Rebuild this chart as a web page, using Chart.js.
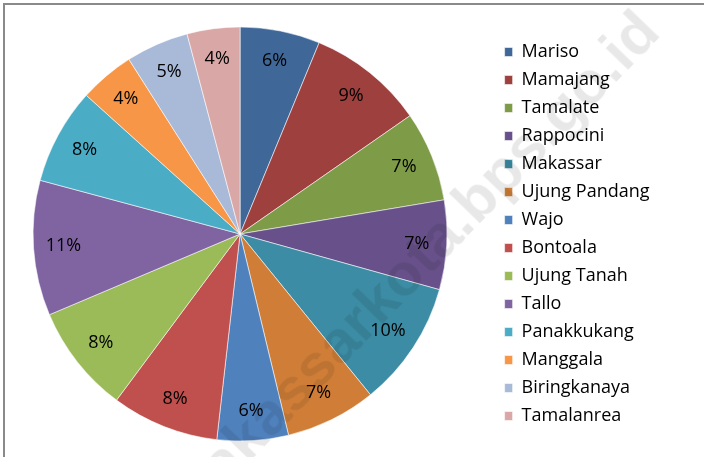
<!DOCTYPE html>
<html>
<head>
<meta charset="utf-8">
<script src="https://cdn.jsdelivr.net/npm/chart.js@4.4.1/dist/chart.umd.min.js"></script>
<style>
    html, body { margin: 0; padding: 0; background: #fff; }
    #stage { position: relative; width: 704px; height: 457px; overflow: hidden; background: #fff; }
    #frame { position: absolute; left: 3px; top: 3px; width: 720px; height: 480px; border: 2px solid #8a8a8a; box-sizing: border-box; }
    #wrap { position: absolute; left: -30px; top: 0; width: 734px; height: 457px; }
    #mark {
        position: absolute; left: 410px; top: 266px;
        transform: translate(-50%, -50%) rotate(-46deg);
        font: bold 60px "Liberation Sans", Arial, sans-serif;
        color: rgba(0, 0, 0, 0.09); white-space: nowrap; pointer-events: none;
    }
</style>
</head>
<body>
<div id="stage">
    <div id="frame"></div>
    <div id="wrap"><canvas id="pieChart"></canvas></div>
    <div id="mark">makassarkota.bps.go.id</div>
</div>
<script>
    // districts, clockwise from 12 o'clock
    const districts = [
        'Mariso', 'Mamajang', 'Tamalate', 'Rappocini', 'Makassar', 'Ujung Pandang', 'Wajo',
        'Bontoala', 'Ujung Tanah', 'Tallo', 'Panakkukang', 'Manggala', 'Biringkanaya', 'Tamalanrea'
    ];
    // share of each district (percent)
    const shares = [6.24, 9.08, 7.04, 6.97, 9.82, 7.08, 5.56, 8.38, 8.45, 10.55, 7.5, 4.3, 4.9, 4.12];
    const sliceColors = [
        '#3f6899', '#9d403e', '#7e9b48', '#68518a', '#3b8ca4', '#d07e37', '#4f81bd',
        '#c0504d', '#9bbb59', '#8064a2', '#4bacc6', '#f79646', '#a9bad9', '#d9a7a6'
    ];

    const FONT = '"Open Sans", sans-serif';

    const percentLabels = {
        id: 'percentLabels',
        afterDatasetsDraw(chart) {
            const ctx = chart.ctx;
            const meta = chart.getDatasetMeta(0);
            const data = chart.data.datasets[0].data;
            const total = data.reduce((a, b) => a + b, 0);

            ctx.save();
            ctx.font = '18px ' + FONT;
            ctx.fillStyle = '#000';
            ctx.textAlign = 'center';
            ctx.textBaseline = 'middle';
            meta.data.forEach((arc, i) => {
                const p = arc.getProps(['x', 'y', 'startAngle', 'endAngle', 'outerRadius'], true);
                const mid = (p.startAngle + p.endAngle) / 2;
                const r = p.outerRadius * 0.855;
                const text = Math.round(data[i] / total * 100) + '%';
                ctx.fillText(text, p.x + Math.cos(mid) * r, p.y + Math.sin(mid) * r);
            });
            ctx.restore();
        }
    };

    new Chart(document.getElementById('pieChart'), {
        type: 'pie',
        data: {
            labels: districts,
            datasets: [{
                data: shares,
                backgroundColor: sliceColors,
                borderColor: 'rgba(255, 255, 255, 0.55)',
                borderWidth: 1,
                radius: 207,
            }],
        },
        options: {
            responsive: true,
            maintainAspectRatio: false,
            animation: false,
            layout: {
                padding: { left: 15.5, right: 44.5, top: 11, bottom: 0 },
            },
            plugins: {
                legend: {
                    display: true,
                    position: 'right',
                    labels: {
                        color: '#000',
                        boxWidth: 8,
                        boxHeight: 9,
                        padding: 10,
                        font: { family: FONT, size: 18 },
                    },
                },
                tooltip: { enabled: false },
            },
        },
        plugins: [percentLabels],
    });
</script>
</body>
</html>
